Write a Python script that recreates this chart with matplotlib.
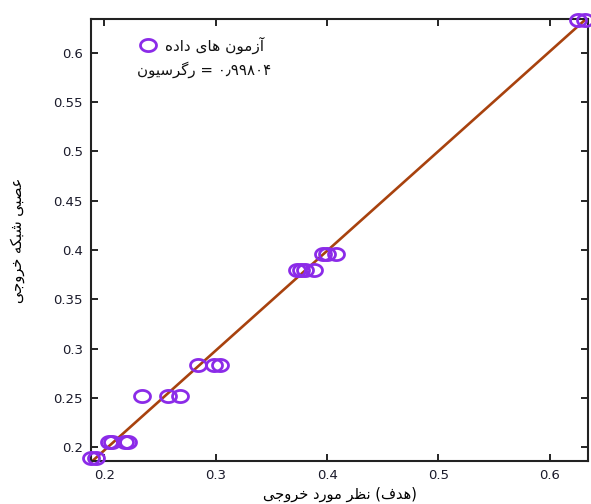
import matplotlib
matplotlib.use("Agg")
import matplotlib.pyplot as plt
import numpy as np
from matplotlib.path import Path

# ---------------- data ----------------
target = [0.1876, 0.1924, 0.204, 0.207, 0.218, 0.221, 0.234, 0.257, 0.268,
          0.284, 0.298, 0.304, 0.373, 0.377, 0.380, 0.388, 0.3966, 0.3996,
          0.408, 0.6254, 0.632]
output = [0.189, 0.189, 0.205, 0.205, 0.205, 0.205, 0.2523, 0.2523, 0.2523,
          0.283, 0.283, 0.283, 0.380, 0.380, 0.380, 0.380, 0.3957, 0.3957,
          0.3957, 0.633, 0.633]
reg_slope = 1.01
reg_intercept = -0.005
xticks = [0.2, 0.3, 0.4, 0.5, 0.6]
yticks = [0.2, 0.25, 0.3, 0.35, 0.4, 0.45, 0.5, 0.55, 0.6]
legend_data = "داده های آزمون"
legend_reg_word = "رگرسیون"
legend_reg_value = "۰٫۹۹۸۰۴"
xlabel = "خروجی مورد نظر (هدف)"
ylabel = "خروجی شبکه عصبی"

# ------------- minimal Arabic/Persian shaping -------------
F = {
    'ا': ('\uFE8D', '\uFE8E'), 'آ': ('\uFE81', '\uFE82'),
    'ب': ('\uFE8F', '\uFE90', '\uFE91', '\uFE92'),
    'ت': ('\uFE95', '\uFE96', '\uFE97', '\uFE98'),
    'ج': ('\uFE9D', '\uFE9E', '\uFE9F', '\uFEA0'),
    'خ': ('\uFEA5', '\uFEA6', '\uFEA7', '\uFEA8'),
    'د': ('\uFEA9', '\uFEAA'), 'ذ': ('\uFEAB', '\uFEAC'),
    'ر': ('\uFEAD', '\uFEAE'), 'ز': ('\uFEAF', '\uFEB0'),
    'س': ('\uFEB1', '\uFEB2', '\uFEB3', '\uFEB4'),
    'ش': ('\uFEB5', '\uFEB6', '\uFEB7', '\uFEB8'),
    'ص': ('\uFEB9', '\uFEBA', '\uFEBB', '\uFEBC'),
    'ط': ('\uFEC1', '\uFEC2', '\uFEC3', '\uFEC4'),
    'ظ': ('\uFEC5', '\uFEC6', '\uFEC7', '\uFEC8'),
    'ع': ('\uFEC9', '\uFECA', '\uFECB', '\uFECC'),
    'ف': ('\uFED1', '\uFED2', '\uFED3', '\uFED4'),
    'ل': ('\uFEDD', '\uFEDE', '\uFEDF', '\uFEE0'),
    'م': ('\uFEE1', '\uFEE2', '\uFEE3', '\uFEE4'),
    'ن': ('\uFEE5', '\uFEE6', '\uFEE7', '\uFEE8'),
    'ه': ('\uFEE9', '\uFEEA', '\uFEEB', '\uFEEC'),
    'و': ('\uFEED', '\uFEEE'),
    'ی': ('\uFBFC', '\uFBFD', '\uFBFE', '\uFBFF'),
    'ک': ('\uFB8E', '\uFB8F', '\uFB90', '\uFB91'),
    'گ': ('\uFB92', '\uFB93', '\uFB94', '\uFB95'),
}
MIRROR = {'(': ')', ')': '('}


def shape_word(w):
    if not any(c in F for c in w):
        return w
    out = []
    for i, c in enumerate(w):
        if c not in F:
            out.append(c)
            continue
        prev = w[i - 1] if i > 0 else None
        nxt = w[i + 1] if i + 1 < len(w) else None
        jp = prev in F and len(F[prev]) == 4
        jn = nxt in F and len(F[c]) == 4
        f = F[c]
        if jp and jn:
            out.append(f[3])
        elif jp:
            out.append(f[1])
        elif jn:
            out.append(f[2])
        else:
            out.append(f[0])
    return ''.join(MIRROR.get(c, c) for c in reversed(out))


def vis(text):
    return ' '.join(shape_word(w) for w in text.split(' '))


plt.rcParams['font.family'] = ['DejaVu Sans']

# slightly wide ellipse marker (as in the reference)
t = np.linspace(0, 2 * np.pi, 60)
ellipse = Path(np.column_stack([0.5 * np.cos(t), 0.38 * np.sin(t)]), closed=True)

# ---------------- figure ----------------
fig = plt.figure(figsize=(5.91, 5.04), dpi=100)
ax = fig.add_axes([0.154, 0.0853, 0.841, 0.877])

tx = np.array(target)
xr = np.array([tx.min(), tx.max()])
ax.plot(xr, reg_slope * xr + reg_intercept, color='#A8420E', lw=1.9,
        zorder=2, clip_on=False)

mcol = '#8B2BE8'
mstyle = dict(linestyle='none', marker=ellipse, markersize=11.5,
              markerfacecolor='none', markeredgecolor=mcol,
              markeredgewidth=2.0, clip_on=False)
ax.plot(target, output, zorder=3, **mstyle)

ax.set_xlim(0.1879, 0.6345)
ax.set_ylim(0.186, 0.634)
ax.set_xticks(xticks)
ax.set_yticks(yticks)
ax.set_xticklabels([f"{v:g}" for v in xticks])
ax.set_yticklabels([f"{v:g}" for v in yticks])
ax.tick_params(direction='in', length=5, width=1.2, top=True, right=True,
               labelsize=9.5, labelcolor='#1a1a2a', pad=6)
for s in ax.spines.values():
    s.set_linewidth(1.5)
    s.set_color('#222222')

# legend-like annotation
ax.plot([0.115], [0.941], transform=ax.transAxes, **mstyle)
ax.text(0.149, 0.941, vis(legend_data), transform=ax.transAxes,
        ha='left', va='center', fontsize=11, color='#111111')
ax.text(0.092, 0.885, vis(legend_reg_word) + ' = ' + legend_reg_value,
        transform=ax.transAxes, ha='left', va='center', fontsize=10.8,
        color='#111111')

ax.set_xlabel(vis(xlabel), fontsize=10.5, labelpad=3)
ax.set_ylabel(vis(ylabel), fontsize=10.5, labelpad=20)

fig.savefig('out.png', dpi=100)
